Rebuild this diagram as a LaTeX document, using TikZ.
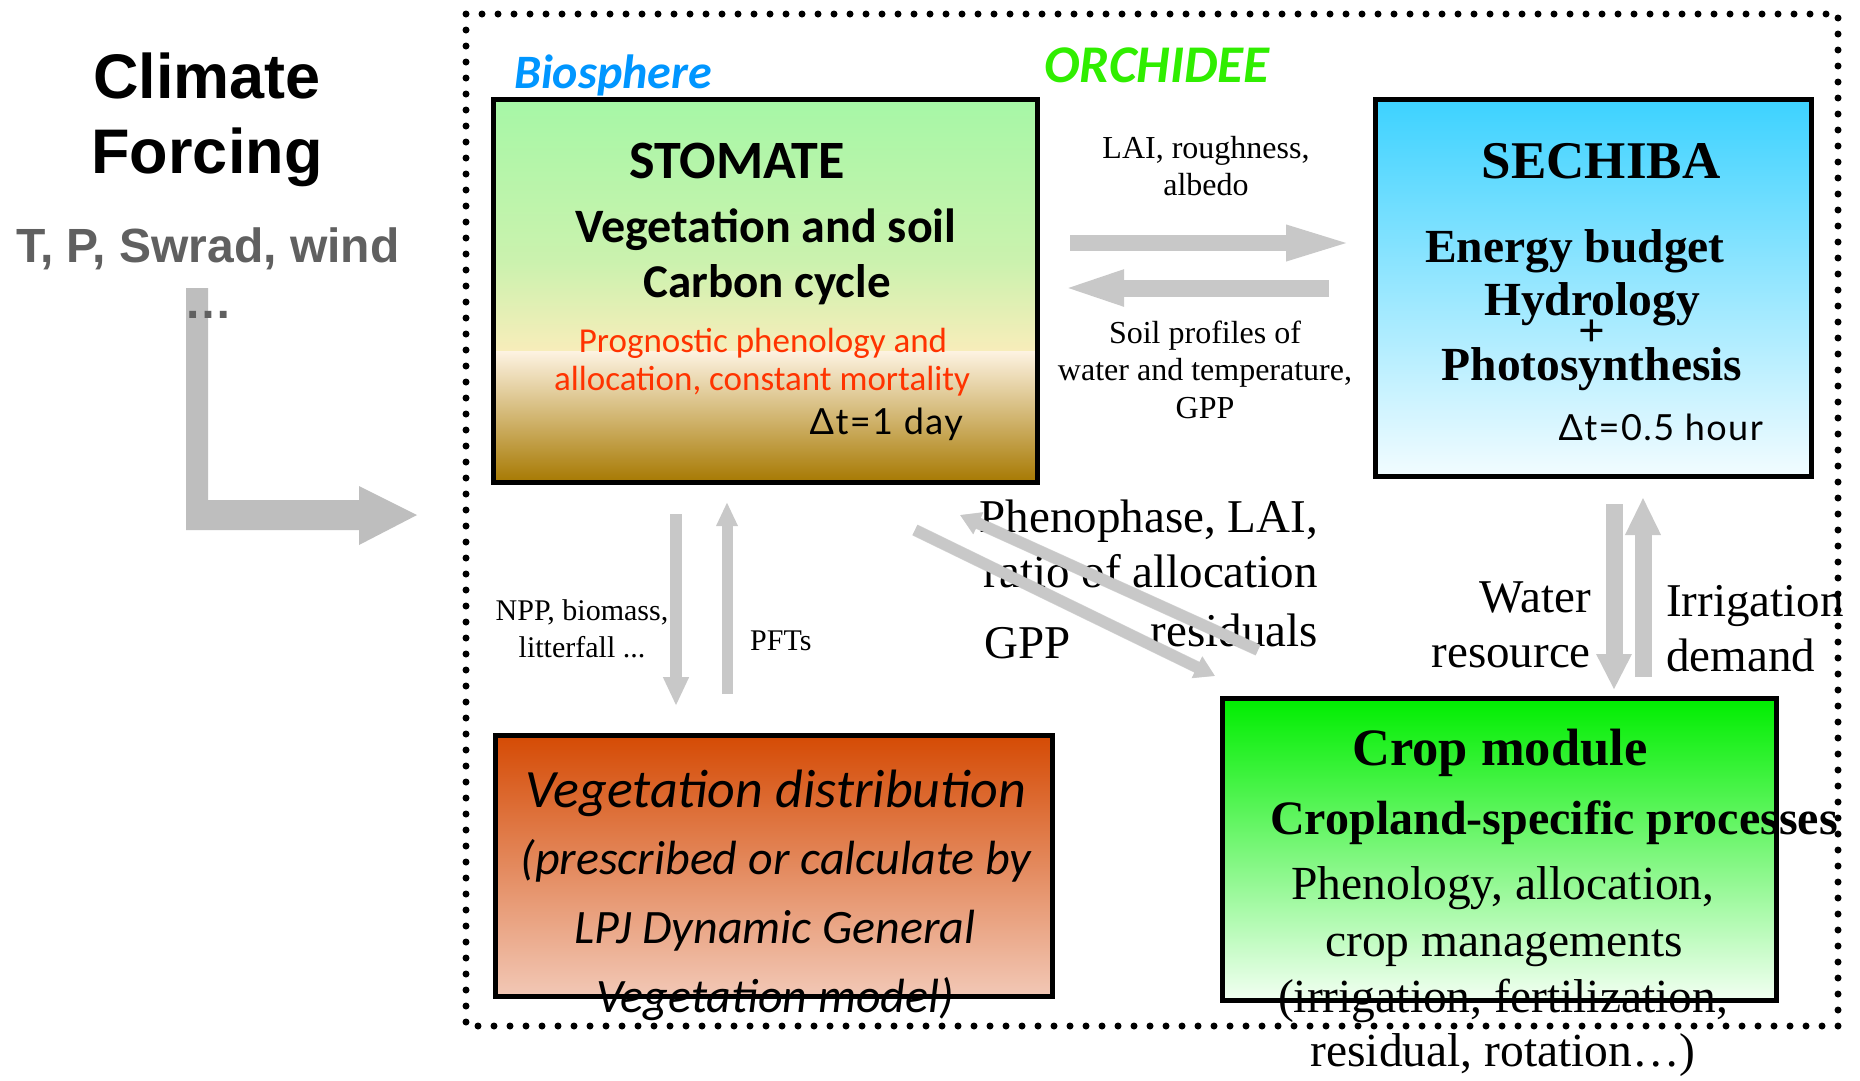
\documentclass[tikz,border=0pt]{standalone}
\usepackage{fontspec}
\setmainfont{Liberation Serif}
\newfontfamily\arialf{Liberation Sans}
\newfontfamily\calf{Carlito}
\newfontfamily\gothf[LetterSpace=4]{Lato}
\usetikzlibrary{arrows.meta}
\definecolor{stomA}{HTML}{A6F7A6}
\definecolor{stomB}{HTML}{CBF2AE}
\definecolor{stomC}{HTML}{F8EDBA}
\definecolor{stomD}{HTML}{FDF3E2}
\definecolor{stomE}{HTML}{A67800}
\definecolor{sechA}{HTML}{3DD2FF}
\definecolor{sechB}{HTML}{F2FCFF}
\definecolor{vegA}{HTML}{D54B05}
\definecolor{vegB}{HTML}{F2C8B6}
\definecolor{cropA}{HTML}{00EE00}
\definecolor{cropB}{HTML}{F2FFF2}
\definecolor{agray}{HTML}{C8C8C8}
\definecolor{lgray}{HTML}{BEBEBE}
\definecolor{tgray}{HTML}{606060}
\definecolor{bioblue}{HTML}{0096FF}
\definecolor{orchgreen}{HTML}{30EE00}
\definecolor{progred}{HTML}{FF3300}
\newcommand\fsz[1]{\fontsize{#1}{#1}\selectfont}
\begin{document}
\begin{tikzpicture}[x=1pt,y=-1pt,
  box/.style={draw=black, line width=5pt, inner sep=0pt},
  txt/.style={inner sep=0pt, anchor=base},
  txtl/.style={inner sep=0pt, anchor=base west},
  txtr/.style={inner sep=0pt, anchor=base east},
  blockarrow/.style={draw=agray, line width=#1, line cap=butt},
  shadowarrow/.style={draw=black!45, opacity=0.35, line width=#1, line cap=butt}]
\useasboundingbox (0,0) rectangle (1860,1080);
\fill[white] (0,0) rectangle (1860,1080);

% ---- STOMATE box
\shade[top color=stomA, bottom color=stomB] (493,99) rectangle (1038,262);
\shade[top color=stomB, bottom color=stomC] (493,261) rectangle (1038,351);
\shade[top color=stomD, bottom color=stomE] (493,351) rectangle (1038,483);
\node[box, minimum width=544pt, minimum height=383pt] (stomate) at (765.5,291) {};

% ---- SECHIBA box
\node[box, top color=sechA, bottom color=sechB, minimum width=436pt, minimum height=377pt] (sechiba) at (1593.5,288) {};

% ---- Vegetation box
\node[box, top color=vegA, bottom color=vegB, minimum width=557pt, minimum height=261pt] (veg) at (774,866) {};

% ---- Crop box
\node[box, top color=cropA, bottom color=cropB, minimum width=554pt, minimum height=302pt] (crop) at (1499.5,849.5) {};

% ---- climate forcing arrow
\fill[lgray] (186,288) -- (208,288) -- (208,500) -- (359,500) -- (359,486) -- (417,515) -- (359,545) -- (359,530) -- (186,530) -- cycle;

% ---- climate forcing text
\node[txt] (climate) at (207,98) {\arialf\bfseries\fsz{63}Climate};
\node[txt] (forcing) at (207,173) {\arialf\bfseries\fsz{63}Forcing};
\node[txtl, text=tgray] (vars) at (16,262) {\arialf\bfseries\fsz{48}T, P, Swrad, wind};
\node[txtl, text=tgray] (dots) at (184,318) {\arialf\bfseries\fsz{48}\dots};

% ---- titles
\node[txtl, text=bioblue] (bio) at (514,88) {\calf\bfseries\itshape\fsz{48}Biosphere};
\node[txtl, text=orchgreen] (orch) at (1044,82) {\calf\bfseries\itshape\fsz{53}ORCHIDEE};

% ---- STOMATE text
\node[txt] (st1) at (737,178) {\calf\bfseries\fsz{54}STOMATE};
\node[txt] (st2) at (766,242) {\calf\bfseries\fsz{48}Vegetation and soil};
\node[txt] (st3) at (767,297) {\calf\bfseries\fsz{47}Carbon cycle};
\node[txt, text=progred] (st4) at (763,352) {\calf\fsz{35}Prognostic phenology and};
\node[txt, text=progred] (st5) at (762,390) {\calf\fsz{35}allocation, constant mortality};
\node[txtr] (st6) at (963,434) {\gothf\fsz{36}Δt=1 day};

% ---- SECHIBA text
\node[txt] (se1) at (1601,178) {\bfseries\fsz{53}SECHIBA};
\node[txt] (se2) at (1575,262) {\bfseries\fsz{47.5}Energy budget};
\node[txt] (se3) at (1592,315) {\bfseries\fsz{47.5}Hydrology};
\node[txt] (se4) at (1592,346) {\bfseries\fsz{47}+};
\node[txt] (se5) at (1592,380) {\bfseries\fsz{47.5}Photosynthesis};
\node[txtr] (se6) at (1763,440) {\gothf\fsz{36}Δt=0.5 hour};

% ---- Vegetation text
\node[txt] (ve1) at (776,807) {\calf\itshape\fsz{54}Vegetation distribution};
\node[txt] (ve2) at (776,874) {\calf\itshape\fsz{48}(prescribed or calculate by};
\node[txt] (ve3) at (775,943) {\calf\itshape\fsz{48}LPJ Dynamic General};
\node[txt] (ve4) at (775,1012) {\calf\itshape\fsz{48}Vegetation model)};

% ---- Crop text
\node[txt] (cr1) at (1500,765) {\bfseries\fsz{52.5}Crop module};
\node[txt] (cr2) at (1554,834) {\bfseries\fsz{48}Cropland-specific processes};
\node[txt] (cr3) at (1503,899) {\fsz{47.5}Phenology, allocation,};
\node[txt] (cr4) at (1504,956) {\fsz{47.5}crop managements};
\node[txt] (cr5) at (1503,1012) {\fsz{47.5}(irrigation, fertilization,};
\node[txt] (cr6) at (1503,1066) {\fsz{47.5}residual, rotation\dots)};

% ---- connector labels
\node[txt] (l1a) at (1206,158) {\fsz{32}LAI, roughness,};
\node[txt] (l1b) at (1206,195) {\fsz{32}albedo};
\node[txt] (l2a) at (1205,343) {\fsz{32}Soil profiles of};
\node[txt] (l2b) at (1205,380) {\fsz{32}water and temperature,};
\node[txt] (l2c) at (1205,418) {\fsz{32}GPP};
\node[txt] (l3a) at (582,620) {\fsz{30}NPP, biomass,};
\node[txt] (l3b) at (582,657) {\fsz{30}litterfall ...};
\node[txtl] (l4) at (750,650) {\fsz{30}PFTs};
\node[txtr] (l5a) at (1318,532) {\fsz{47}Phenophase, LAI,};
\node[txtr] (l5b) at (1318,587) {\fsz{47}ratio of allocation};
\node[txtr] (l5c) at (1318,646) {\fsz{47}residuals};
\node[txtl] (l6) at (984,658) {\fsz{47}GPP};
\node[txtr] (l7a) at (1591,612) {\fsz{47}Water};
\node[txtr] (l7b) at (1591,667) {\fsz{47}resource};
\node[txtl] (l8a) at (1666,616) {\fsz{47}Irrigation};
\node[txtl] (l8b) at (1666,671) {\fsz{47}demand};

% ---- connector end points
\coordinate (laiS) at (1070,243);  \coordinate (laiE) at (1356,243);
\coordinate (soilS) at (1329,288); \coordinate (soilE) at (1058,288);
\coordinate (nppS) at (676,514);   \coordinate (nppE) at (676,706);
\coordinate (pftS) at (727,694);   \coordinate (pftE) at (727,502);
\coordinate (watS) at (1614,504);  \coordinate (watE) at (1614,690);
\coordinate (irrS) at (1643,677);  \coordinate (irrE) at (1643,497);
\coordinate (d1S) at (1258,650);   \coordinate (d1E) at (960,515);
\coordinate (d2S) at (915,530);    \coordinate (d2E) at (1215,676);

\draw[blockarrow=16pt, -{Triangle[length=70pt,width=31pt]}] (laiS) -- (laiE);
\draw[blockarrow=17pt, -{Triangle[length=66pt,width=31pt]}] (soilS) -- (soilE);
\draw[blockarrow=12pt, -{Triangle[length=29pt,width=24pt]}] (nppS) -- (nppE);
\draw[blockarrow=11pt, -{Triangle[length=24pt,width=20pt]}] (pftS) -- (pftE);
\draw[blockarrow=17pt, -{Triangle[length=36pt,width=33pt]}] (watS) -- (watE);
\draw[blockarrow=17pt, -{Triangle[length=38pt,width=33pt]}] (irrS) -- (irrE);

\begin{scope}[shift={(3,6)}]
\draw[shadowarrow=12pt, -{Triangle[length=20pt,width=23pt]}] (d1S) -- (d1E);
\draw[shadowarrow=12pt, -{Triangle[length=20pt,width=23pt]}] (d2S) -- (d2E);
\end{scope}
\draw[blockarrow=11pt, -{Triangle[length=20pt,width=22pt]}] (d1S) -- (d1E);
\draw[blockarrow=11pt, -{Triangle[length=20pt,width=22pt]}] (d2S) -- (d2E);

% ---- dotted ORCHIDEE frame
\draw[line width=7pt, line cap=round, dash pattern=on 0pt off 16pt] (466,14) rectangle (1838,1026);
\end{tikzpicture}
\end{document}
